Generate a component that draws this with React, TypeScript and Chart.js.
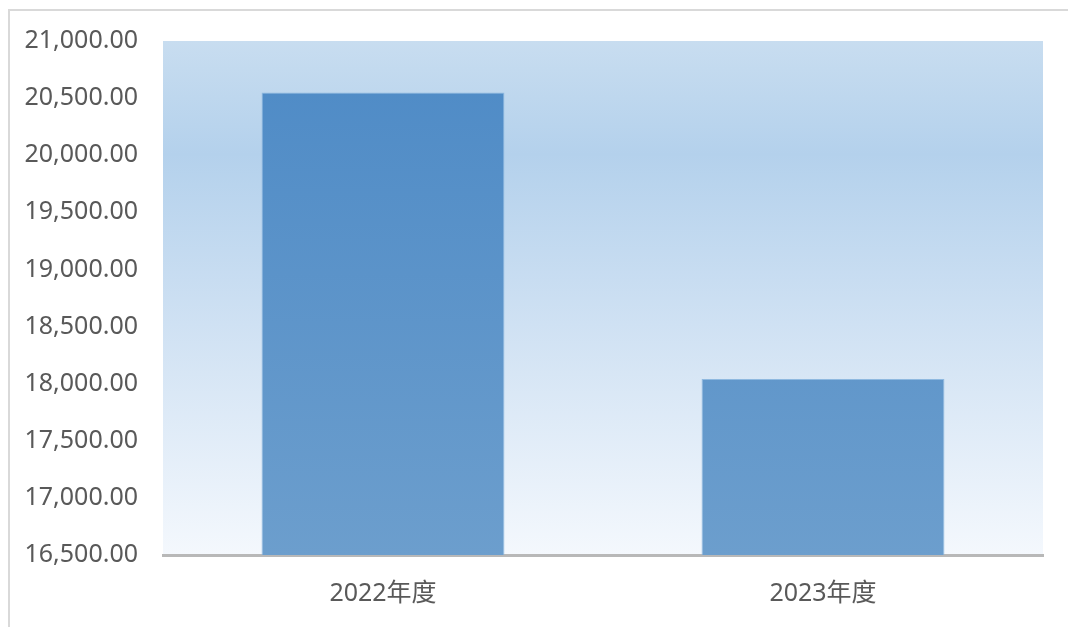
import React, { useEffect, useRef } from "react";
import { Chart, registerables } from "chart.js";

Chart.register(...registerables);

const categories: string[] = ["2022年度", "2023年度"];
const values: number[] = [20550, 18040];
const yMin = 16500;
const yMax = 21000;
const yStep = 500;

const FONT = "'Noto Sans', 'Noto Sans CJK SC', sans-serif";

const bgPlugin = {
  id: "bgPlugin",
  beforeDraw(chart: any) {
    const { ctx, chartArea } = chart;
    const { left, top, right, bottom } = chartArea;
    ctx.save();
    // outer frame
    ctx.strokeStyle = "#d9d9d9";
    ctx.lineWidth = 2;
    ctx.strokeRect(9, 10, 1200, 800);
    // plot area gradient
    const g = ctx.createLinearGradient(0, top, 0, bottom);
    g.addColorStop(0, "#c8ddf0");
    g.addColorStop(0.22, "#b4d1ec");
    g.addColorStop(0.55, "#cfe1f3");
    g.addColorStop(1, "#f4f8fd");
    ctx.fillStyle = g;
    ctx.fillRect(left, top, right - left, bottom - top);
    ctx.restore();
  },
};

export default function App() {
  const ref = useRef<HTMLCanvasElement>(null);
  useEffect(() => {
    const canvas = ref.current!;
    const chart = new Chart(canvas, {
      type: "bar",
      data: {
        labels: categories,
        datasets: [
          {
            data: values,
            backgroundColor: (c: any) => {
              const area = c.chart.chartArea;
              if (!area) return "#5b93c8";
              const g = c.chart.ctx.createLinearGradient(0, area.top, 0, area.bottom);
              g.addColorStop(0, "#4d8ac6");
              g.addColorStop(1, "#6c9ecd");
              return g;
            },
            borderColor: "#8fb9e0",
            borderWidth: 1,
            borderSkipped: "bottom",
            categoryPercentage: 1,
            barPercentage: 0.552,
          },
        ],
      },
      options: {
        animation: false,
        responsive: false,
        maintainAspectRatio: false,
        layout: { padding: { left: 0, right: 25, top: 41, bottom: 0 } },
        plugins: { legend: { display: false }, tooltip: { enabled: false } },
        scales: {
          x: {
            grid: { display: false, drawTicks: false },
            border: { display: true, color: "#b8b8b8", width: 3 },
            ticks: {
              color: "#595959",
              font: { family: FONT, size: 25 },
              padding: 24,
            },
            afterFit: (s: any) => {
              s.height = 72;
            },
          },
          y: {
            min: yMin,
            max: yMax,
            grid: { display: false, drawTicks: false },
            border: { display: false },
            ticks: {
              stepSize: yStep,
              color: "#595959",
              font: { family: FONT, size: 25 },
              padding: 25,
              callback: (v: any) =>
                Number(v).toLocaleString("en-US", {
                  minimumFractionDigits: 2,
                  maximumFractionDigits: 2,
                }),
            },
            afterFit: (s: any) => {
              s.width = 163;
            },
          },
        },
      },
      plugins: [bgPlugin],
    });
    return () => chart.destroy();
  }, []);
  return (
    <div style={{ position: "absolute", left: 0, top: 0, width: 1068, height: 627, background: "#ffffff" }}>
      <canvas ref={ref} width={1068} height={627} style={{ width: 1068, height: 627, display: "block" }} />
    </div>
  );
}
